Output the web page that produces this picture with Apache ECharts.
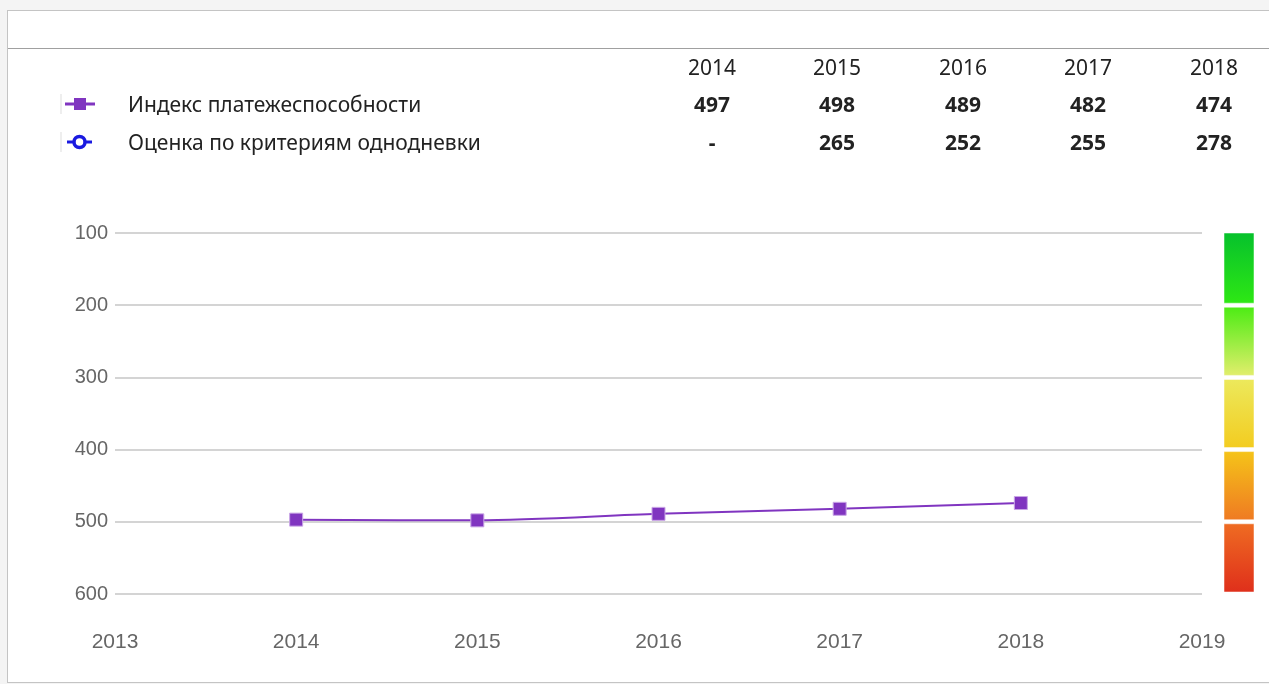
<!DOCTYPE html>
<html lang="ru">

<head>
    <meta http-equiv="Content-Type" content="text/html; charset=utf-8" />
    <title>Индекс платежеспособности</title>
    <style>
        html,
        body {
            width: 100%;
            height: 100%;
            margin: 0;
            padding: 0;
            overflow: hidden;
            background: #f4f4f4;
        }

        #frame {
            position: absolute;
            left: 7px;
            top: 10px;
            width: 1270px;
            height: 671px;
            background: #fff;
            border: 1px solid #c4c4c4;
        }

        #head {
            position: absolute;
            left: 0;
            top: 0;
            width: 100%;
            height: 37px;
            border-bottom: 1px solid #a0a0a0;
        }

        #myChart {
            position: absolute;
            left: 0;
            top: 0;
            width: 1269px;
            height: 684px;
        }
    </style>
</head>

<body>
    <div id="frame"><div id="head"></div></div>
    <div id="myChart"></div>
    <script src="https://cdn.jsdelivr.net/npm/echarts@6/dist/echarts.min.js"></script>
    <script>
        // данные
        var years = [2014, 2015, 2016, 2017, 2018];
        var solvency = [497, 498, 489, 482, 474];
        var oneDayScore = [null, 265, 252, 255, 278];
        var seriesNames = ['Индекс платежеспособности', 'Оценка по критериям однодневки'];
        var yTicks = [100, 200, 300, 400, 500, 600];
        // шкала справа: [от, до, цвет сверху, цвет снизу]
        var scaleBands = [
            [100, 200, '#06c12c', '#2ee814'],
            [200, 300, '#4cec14', '#e2ee6c'],
            [300, 400, '#ece95c', '#f3cc20'],
            [400, 500, '#f5c419', '#ef7a22'],
            [500, 600, '#ef6c22', '#df2f1b']
        ];

        var colX = [712, 837, 963, 1088, 1214];
        var rowY = [69, 106, 144];
        var tableFont = '"Noto Sans", "Open Sans", sans-serif';

        var graphics = [];
        // заголовки годов
        years.forEach(function (y, i) {
            graphics.push({
                type: 'text', x: colX[i], y: rowY[0],
                style: { text: String(y), font: '21px ' + tableFont, fill: '#222', align: 'center', verticalAlign: 'middle' }
            });
        });
        [solvency, oneDayScore].forEach(function (arr, r) {
            arr.forEach(function (v, i) {
                graphics.push({
                    type: 'text', x: colX[i], y: rowY[r + 1],
                    style: { text: v == null ? '-' : String(v), font: 'bold 21px ' + tableFont, fill: '#222', align: 'center', verticalAlign: 'middle' }
                });
            });
            graphics.push({
                type: 'text', x: 128, y: rowY[r + 1],
                style: { text: seriesNames[r], font: '21px ' + tableFont, fill: '#222', align: 'left', verticalAlign: 'middle' }
            });
            // значок легенды
            graphics.push({ type: 'line', shape: { x1: 61, y1: rowY[r + 1] - 12, x2: 61, y2: rowY[r + 1] + 8 }, style: { stroke: '#ddd', lineWidth: 1 } });
        });
        var iconY = [104, 142];
        graphics.push({ type: 'line', shape: { x1: 65, y1: iconY[0], x2: 95, y2: iconY[0] }, style: { stroke: '#8035c0', lineWidth: 3 } });
        graphics.push({ type: 'rect', shape: { x: 74, y: iconY[0] - 6, width: 12, height: 12 }, style: { fill: '#8035c0' } });
        graphics.push({ type: 'line', shape: { x1: 67, y1: iconY[1], x2: 92, y2: iconY[1] }, style: { stroke: '#1a1ae0', lineWidth: 3 } });
        graphics.push({ type: 'circle', shape: { cx: 79.5, cy: iconY[1], r: 5.5 }, style: { fill: '#fff', stroke: '#1a1ae0', lineWidth: 3.5 } });

        var axisFont = '"Liberation Sans", Arial, sans-serif';

        var myChart = echarts.init(document.getElementById('myChart'));
        var option = {
            animation: false,
            grid: [
                { left: 115, right: 67, top: 233, bottom: 90 },
                { left: 1224, width: 30, top: 233, bottom: 90 }
            ],
            xAxis: [{
                type: 'value',
                gridIndex: 0,
                min: 2013,
                max: 2019,
                interval: 1,
                axisLine: { show: false },
                axisTick: { show: false },
                splitLine: { show: false },
                axisLabel: {
                    color: '#666', fontSize: 21, fontFamily: axisFont, margin: 38,
                    formatter: function (v) { return String(v); }
                }
            }, {
                type: 'value', gridIndex: 1, min: 0, max: 1, show: false
            }],
            yAxis: [{
                type: 'value',
                gridIndex: 0,
                inverse: true,
                min: yTicks[0],
                max: yTicks[yTicks.length - 1],
                interval: 100,
                axisLine: { show: false },
                axisTick: { show: false },
                splitLine: { lineStyle: { color: '#d4d4d4', width: 2 } },
                axisLabel: { color: '#666', fontSize: 20, fontFamily: axisFont, margin: 7 }
            }, {
                type: 'value', gridIndex: 1, inverse: true, min: 100, max: 600, show: false
            }],
            graphic: graphics,
            series: [{
                name: seriesNames[0],
                type: 'line',
                xAxisIndex: 0,
                yAxisIndex: 0,
                data: years.map(function (y, i) { return [y, solvency[i]]; }),
                symbol: 'rect',
                symbolSize: 13,
                smooth: 0.3,
                lineStyle: { color: '#8035c0', width: 2 },
                itemStyle: { color: '#8035c0', borderColor: '#c9a6e6', borderWidth: 1 }
            }, {
                name: 'scale',
                type: 'custom',
                xAxisIndex: 1,
                yAxisIndex: 1,
                data: scaleBands.map(function (b) { return [b[0], b[1]]; }),
                renderItem: function (params, api) {
                    var b = scaleBands[params.dataIndex];
                    var p1 = api.coord([0, api.value(0)]);
                    var p2 = api.coord([1, api.value(1)]);
                    var top = params.dataIndex === 0 ? p1[1] : p1[1] + 2;
                    return {
                        type: 'rect',
                        shape: { x: p1[0], y: top, width: p2[0] - p1[0], height: p2[1] - 2 - top },
                        style: {
                            fill: new echarts.graphic.LinearGradient(0, 0, 0, 1, [
                                { offset: 0, color: b[2] }, { offset: 1, color: b[3] }
                            ]),
                            stroke: 'rgba(255,255,255,0.5)',
                            lineWidth: 1
                        }
                    };
                }
            }]
        };
        myChart.setOption(option);
    </script>
</body>

</html>
